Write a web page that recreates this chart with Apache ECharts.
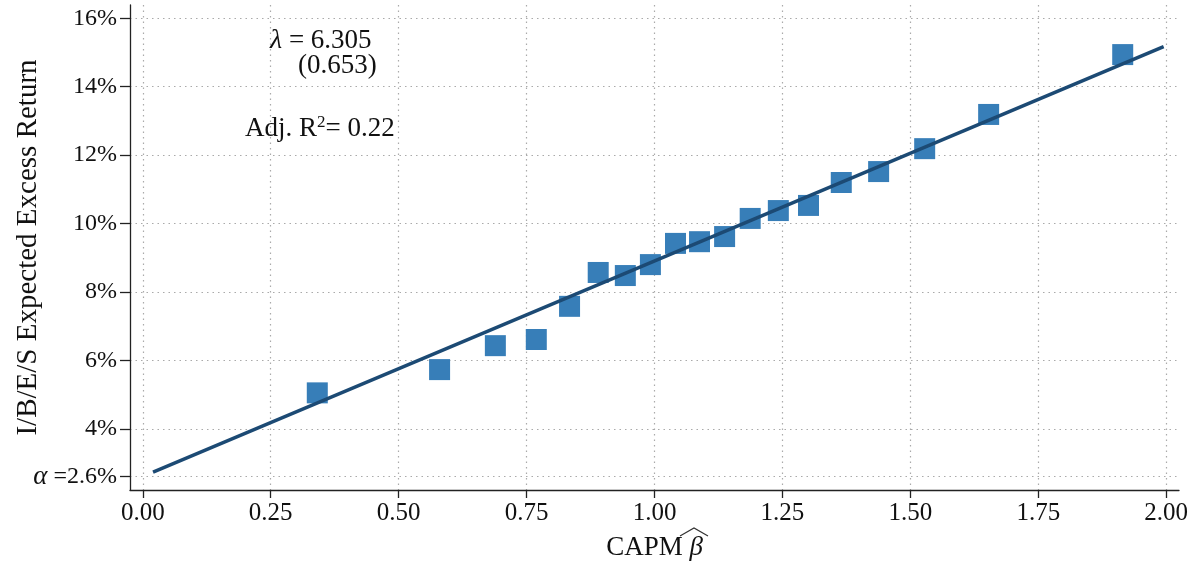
<!DOCTYPE html>
<html>
<head>
<meta charset="utf-8">
<script src="https://cdn.jsdelivr.net/npm/echarts@6/dist/echarts.min.js"></script>
<style>html,body{margin:0;padding:0;background:#fff}#c{width:1198px;height:567px}</style>
</head>
<body>
<div id="c"></div>
<script>
// Portfolio CAPM betas and expected excess returns (%)
const betas = [0.341, 0.580, 0.689, 0.769, 0.834, 0.890, 0.943, 0.992, 1.041, 1.088,
               1.137, 1.187, 1.242, 1.301, 1.365, 1.438, 1.528, 1.653, 1.915];
const returns = [5.05, 5.73, 6.43, 6.61, 7.58, 8.57, 8.48, 8.80, 9.42, 9.47,
                 9.62, 10.15, 10.38, 10.53, 11.20, 11.52, 12.19, 13.19, 14.94];
// Fitted line endpoints
const fitX = [0.02, 1.995];
const fitY = [2.73, 15.17];
// Tick values
const xTicks = [0, 0.25, 0.5, 0.75, 1.0, 1.25, 1.5, 1.75, 2.0];
const yTicks = [2.6, 4, 6, 8, 10, 12, 14, 16];
const alphaVal = 2.6;
const lambdaText = '6.305';
const lambdaSE = '(0.653)';
const adjR2 = '0.22';

const FONT = '"Liberation Serif", "DejaVu Serif", serif';
const TXT = '#111';
const chart = echarts.init(document.getElementById('c'), null, {renderer: 'canvas'});
const pts = betas.map((b, i) => [b, returns[i]]);
const fit = fitX.map((x, i) => [x, fitY[i]]);

chart.setOption({
  animation: false,
  backgroundColor: '#fff',
  grid: {left: 130, top: 5, right: 19, bottom: 77, containLabel: false, outerBoundsMode: 'none'},
  xAxis: {
    type: 'value', min: -0.025, max: 2.025,
    name: 'CAPM {b|β}', nameLocation: 'middle', nameGap: 44, nameMoveOverlap: false,
    nameTextStyle: {fontFamily: FONT, fontSize: 27, color: TXT,
      rich: {b: {fontFamily: FONT, fontSize: 27, fontStyle: 'italic', color: TXT}}},
    axisLine: {show: true, onZero: false, lineStyle: {color: '#222', width: 1.3}},
    axisTick: {show: true, length: 8, lineStyle: {color: '#222', width: 1.3}, customValues: xTicks},
    axisLabel: {fontFamily: FONT, fontSize: 25, color: TXT, margin: 11, customValues: xTicks,
      formatter: v => v.toFixed(2)},
    splitLine: {show: true, lineStyle: {color: '#aaa', type: [1.5, 4], width: 1.2}}
  },
  yAxis: {
    type: 'value', min: 2.21, max: 16.39,
    name: 'I/B/E/S Expected Excess Return', nameLocation: 'middle', nameGap: 87, nameMoveOverlap: false,
    nameTextStyle: {fontFamily: FONT, fontSize: 29, color: TXT},
    axisLine: {show: true, onZero: false, lineStyle: {color: '#222', width: 1.3}},
    axisTick: {show: true, length: 10, lineStyle: {color: '#222', width: 1.3}, customValues: yTicks},
    axisLabel: {fontFamily: FONT, fontSize: 24, color: TXT, margin: 13, customValues: yTicks,
      formatter: v => Math.abs(v - alphaVal) < 1e-6 ? '{a|α} =' + alphaVal + '%' : Math.round(v) + '%',
      rich: {a: {fontFamily: FONT, fontSize: 27, fontStyle: 'italic', color: TXT}}},
    splitLine: {show: true, lineStyle: {color: '#aaa', type: [1.5, 4], width: 1.2}}
  },
  graphic: [
    {type: 'text', x: 270, y: 41, style: {
      text: '{l|λ} = ' + lambdaText, font: '27px ' + FONT, fill: TXT, align: 'left', verticalAlign: 'middle',
      rich: {l: {fontFamily: FONT, fontSize: 28, fontStyle: 'italic', fill: TXT}}}},
    {type: 'text', x: 298, y: 66, style: {text: lambdaSE, font: '27px ' + FONT, fill: TXT,
      align: 'left', verticalAlign: 'middle'}},
    {type: 'text', x: 245, y: 129, style: {
      text: 'Adj. R{s|2}= ' + adjR2, font: '27px ' + FONT, fill: TXT, align: 'left', verticalAlign: 'middle',
      rich: {s: {fontFamily: FONT, fontSize: 17, verticalAlign: 'top', padding: [0, 0, 12, 0], fill: TXT}}}},
    // wide hat over beta in the x-axis title
    {type: 'polyline', shape: {points: [[680, 536], [694, 528], [708, 536]]},
     style: {stroke: '#333', lineWidth: 1.2, fill: null}}
  ],
  series: [
    {type: 'scatter', data: pts, symbol: 'rect', symbolSize: 21, z: 2,
     itemStyle: {color: '#377eb8', opacity: 1}},
    {type: 'line', data: fit, showSymbol: false, symbol: 'none', z: 3,
     lineStyle: {color: '#1c4a74', width: 3.5}}
  ]
});
</script>
</body>
</html>
